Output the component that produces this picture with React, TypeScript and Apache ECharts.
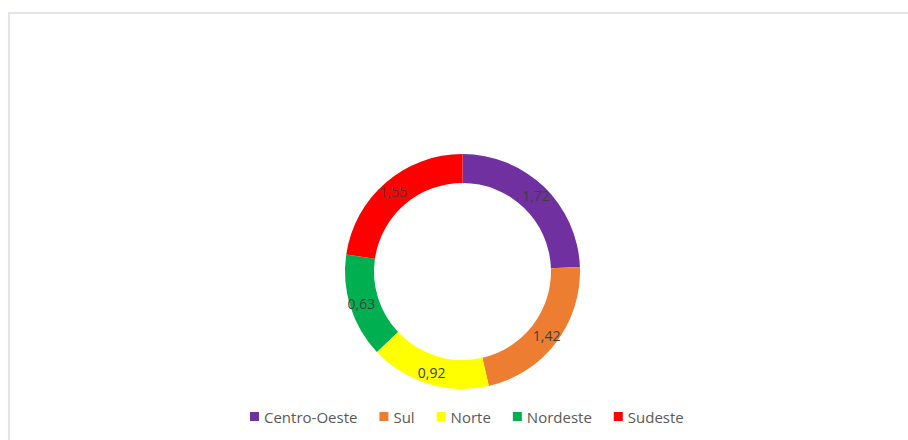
import React, { useEffect, useRef } from "react";
import * as echarts from "echarts";

const categories = ["Centro-Oeste", "Sul", "Norte", "Nordeste", "Sudeste"];
// displayed data labels
const labelValues = [1.72, 1.42, 0.92, 0.63, 1.55];
// slice shares (%) as drawn in the reference
const sliceShares = [24.4, 22.0, 16.6, 14.3, 22.7];
const colors = ["#7030A0", "#ED7D31", "#FFFF00", "#00B050", "#FF0000"];

export default function App() {
  const ref = useRef<HTMLDivElement>(null);
  useEffect(() => {
    if (!ref.current) return;
    const chart = echarts.init(ref.current, undefined, { renderer: "svg" });
    chart.setOption({
      animation: false,
      backgroundColor: "#ffffff",
      graphic: [
        {
          type: "rect",
          shape: { x: 9, y: 13, width: 920, height: 440 },
          style: { fill: "none", stroke: "#e3e5ed", lineWidth: 2 },
          silent: true,
        },
      ],
      legend: {
        bottom: 11,
        left: 245,
        itemWidth: 9,
        itemHeight: 9,
        itemGap: 22,
        icon: "rect",
        textStyle: { color: "#595959", fontSize: 15, fontFamily: "Open Sans" },
        data: categories,
      },
      series: [
        {
          type: "pie",
          center: [462.5, 271.5],
          radius: [88.5, 117.5],
          startAngle: 90,
          clockwise: true,
          avoidLabelOverlap: false,
          label: {
            show: true,
            position: "inside",
            color: "#404040",
            fontSize: 14,
            fontFamily: "Open Sans",
            formatter: (p: any) => String(labelValues[p.dataIndex]).replace(".", ","),
          },
          labelLine: { show: false },
          itemStyle: { borderWidth: 0 },
          emphasis: { disabled: true },
          data: categories.map((c, i) => ({ name: c, value: sliceShares[i], itemStyle: { color: colors[i] } })),
        },
      ],
    });
    return () => chart.dispose();
  }, []);
  return (
    <div
      ref={ref}
      style={{ position: "absolute", left: 0, top: 0, width: 908, height: 440 }}
    />
  );
}
